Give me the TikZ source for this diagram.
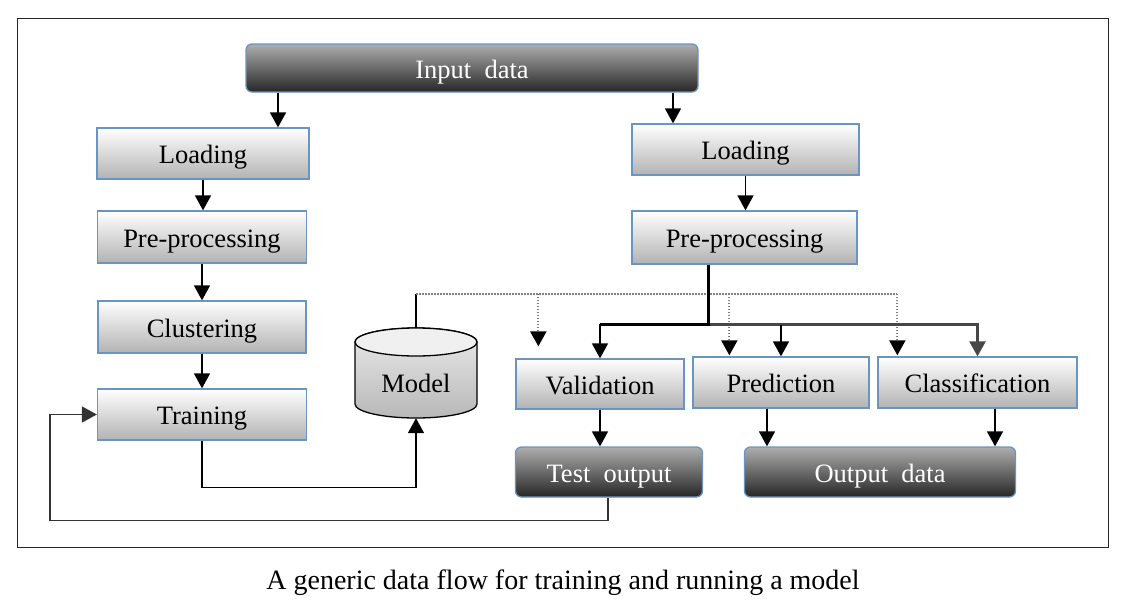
\documentclass[tikz,border=0pt]{standalone}
\usepackage{fontspec}
\setmainfont{Liberation Serif}
\usetikzlibrary{arrows.meta,calc}
\definecolor{boxblue}{RGB}{108,148,192}
\tikzset{
  txt/.style={font=\fontsize{26.5}{30}\selectfont, text height=20pt, text depth=0pt},
  lbox/.style={draw=boxblue, line width=1.3pt, top color=white, middle color=black!4, bottom color=black!30,
    inner sep=0pt, txt},
  dbox/.style={draw=boxblue, line width=1.3pt, rounded corners=6pt, top color=black!32, bottom color=black!85,
    inner sep=0pt, text=white, txt},
  arr/.style={-{Triangle[width=16pt,length=15pt]}, line width=1.6pt, black},
  dotline/.style={dash pattern=on 1.5pt off 1.5pt, line width=2.2pt, black!50},
  dotarr/.style={dash pattern=on 1.5pt off 1.5pt, line width=2.2pt, black!50, -{Triangle[width=16pt,length=15pt,color=black]}},
}
\begin{document}
\begin{tikzpicture}[x=1pt,y=-1pt]
\useasboundingbox (0,0) rectangle (1128,614);
\draw[line width=1pt, black!85] (17,18) rectangle (1108,547);

% nodes
\node[dbox, minimum width=452pt, minimum height=48pt] (indata) at (472,68) {Input\ \ data};
\node[lbox, minimum width=212pt, minimum height=51pt] (lload) at (203,153.5) {Loading};
\node[lbox, minimum width=209pt, minimum height=52pt] (lpre) at (202,237) {Pre-processing};
\node[lbox, minimum width=208pt, minimum height=52pt] (lclu) at (202,327) {Clustering};
\node[lbox, minimum width=209pt, minimum height=51pt] (ltrain) at (202,414.5) {Training};
\node[lbox, minimum width=227pt, minimum height=51pt] (rload) at (745.5,149.5) {Loading};
\node[lbox, minimum width=225pt, minimum height=53pt] (rpre) at (744.5,237.5) {Pre-processing};
\node[lbox, minimum width=168pt, minimum height=50pt] (val) at (600,384) {Validation};
\node[lbox, minimum width=176pt, minimum height=51pt] (pred) at (781,382.5) {Prediction};
\node[lbox, minimum width=199pt, minimum height=51pt] (cls) at (977.5,382.5) {Classification};
\node[dbox, minimum width=187pt, minimum height=50pt] (test) at (609,472) {Test\ \ output};
\node[dbox, minimum width=271pt, minimum height=50pt] (outd) at (880,472) {Output\ \ data};

% model cylinder
\path[draw=black, line width=1.3pt, top color=black!8, bottom color=black!28]
  (355,342) -- (355,404) arc[start angle=180, end angle=360, x radius=61pt, y radius=14pt]
  -- (477,342) arc[start angle=0, end angle=180, x radius=61pt, y radius=14pt] -- cycle;
\draw[line width=1.3pt, fill=black!6] (416,342) ellipse[x radius=61pt, y radius=14pt];
\node[minimum width=122pt, minimum height=90pt, inner sep=0pt,
  label={[txt, inner sep=0pt, yshift=-9pt]center:Model}] (model) at (416,373) {};

% input arrows
\coordinate (a1) at ([xshift=-194pt]indata.south);
\coordinate (a2) at ([xshift=201pt]indata.south);
\draw[arr] (a1) -- (a1 |- lload.north);
\draw[arr] (a2) -- (a2 |- rload.north);

% left chain
\draw[arr] (lload.south) -- (lload.south |- lpre.north);
\draw[arr] (lpre.south) -- (lpre.south |- lclu.north);
\draw[arr] (lclu.south) -- (lclu.south |- ltrain.north);
\draw[arr] (rload.south) -- (rload.south |- rpre.north);

% training to model
\draw[arr] (ltrain.south) -- ++(0,47) -| (model.south);

% feedback
\coordinate (fb) at ([xshift=-1pt]test.south);
\draw[arr, black!80] (fb) -- ++(0,23) -| ([xshift=-47pt]ltrain.west) -- (ltrain.west);

% dotted from model
\coordinate (d0) at ($(model.north)+(0,-34)$);
\coordinate (dv) at ([xshift=23pt]val.north west);
\coordinate (dp) at ([xshift=37pt]pred.north west);
\coordinate (dc) at ([xshift=20pt]cls.north west);
\draw[line width=1.6pt] (model.north) -- (d0);
\draw[dotline] (d0) -- (d0 -| dc);
\draw[dotarr] (d0 -| dv) -- ([yshift=12pt]dv);
\draw[dotarr] (d0 -| dp) -- ([yshift=1pt]dp);
\draw[dotarr] (d0 -| dc) -- ([yshift=1pt]dc);

% solid branches from right pre-processing
\coordinate (br) at ([xshift=-36.5pt]rpre.south);
\coordinate (bj) at ($(br)+(0,60)$);
\draw[arr, line width=2.4pt, black!72] (bj) -| (cls.north);
\draw[arr] (bj -| pred.north) -- (pred.north);
\draw[arr] (bj) -| (val.north);
\draw[line width=3pt] (br) -- (bj) -- (bj -| val.north);

% to outputs
\draw[arr] (val.south) -- (val.south |- test.north);
\coordinate (p1) at ([xshift=-14pt]pred.south);
\coordinate (c1) at ([xshift=17.5pt]cls.south);
\draw[arr] (p1) -- (p1 |- outd.north);
\draw[arr] (c1) -- (c1 |- outd.north);

% caption
\node[font=\fontsize{28}{32}\selectfont] (cap) at (563,583) {A generic data flow for training and running a model};
\end{tikzpicture}
\end{document}
